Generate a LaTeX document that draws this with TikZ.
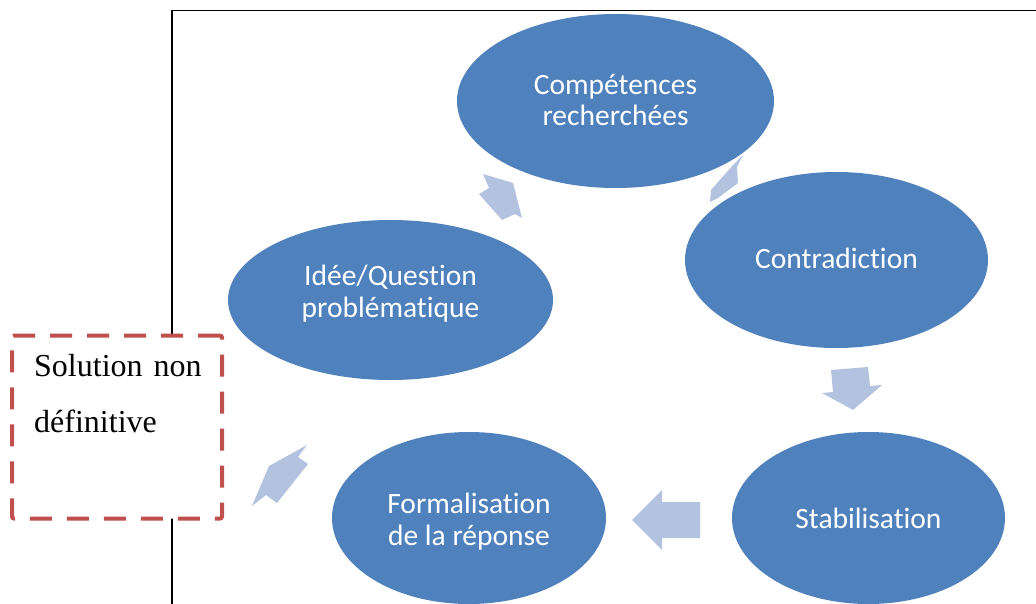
\documentclass[tikz,border=0pt]{standalone}
\usepackage{fontspec}
\setmainfont{Liberation Serif}
\newfontfamily\calib[Ligatures={NoCommon,NoRequired,NoContextual,NoDiscretionary}]{Carlito}
\usetikzlibrary{shapes.geometric}
\definecolor{nodeblue}{RGB}{79,129,189}
\definecolor{arrowblue}{RGB}{179,195,223}
\definecolor{dashred}{RGB}{192,80,77}
\begin{document}
\begin{tikzpicture}[x=1pt,y=-1pt,
  cyc/.style={ellipse, fill=nodeblue, draw=none, inner sep=0pt, text=white,
    font=\calib\fontsize{29.5}{31.5}\selectfont, align=center, text height=22pt},
  blockarrow/.style={fill=arrowblue, draw=none},
  framel/.style={draw=black, line width=1.6pt},
  solbox/.style={draw=dashred, line width=4pt, dash pattern=on 22pt off 15pt,
    fill=white, rounded corners=2pt, minimum width=210pt, minimum height=183pt, inner sep=0pt},
  soltext/.style={anchor=base west, inner sep=0pt, font=\fontsize{32}{32}\selectfont}]
\useasboundingbox (0,0) rectangle (1036,604);
% frame
\coordinate (fb) at (172,606);
\coordinate (fc) at (172,10.5);
\coordinate (fr) at (1040,10.5);
\draw[framel] (fb) -- (fc) -- (fr);
% block arrows
\fill[blockarrow] (483,174) -- (513,183) -- (522,218) -- (515,214) -- (502,220) -- (479,194) -- (489,188) -- cycle;
\fill[blockarrow] (743,155) -- (737,167) -- (738,183) -- (718,198) -- (710,202) -- (711,190) -- (733,165) -- cycle;
\fill[blockarrow] (831,370) -- (868,367) -- (870,386) -- (882,385) -- (853,410) -- (822,393) -- (833,392) -- cycle;
\fill[blockarrow] (632,520) -- (662,490) -- (662,502) -- (700,502) -- (700,538) -- (662,538) -- (662,550) -- cycle;
\fill[blockarrow] (307,445) -- (298,457) -- (308,464) -- (277,503) -- (266,495) -- (252,506) -- (269,466) -- cycle;
% ellipses
\node[cyc, text height=55pt, text depth=5pt, minimum width=317pt, minimum height=174pt] (comp) at (615.5,101) {Compétences\\recherchées};
\node[cyc, text depth=4pt, minimum width=303pt, minimum height=176pt] (contra) at (836.5,260) {Contradiction};
\node[cyc, text depth=2pt, minimum width=273pt, minimum height=172pt] (stab) at (868.5,518) {Stabilisation};
\node[cyc, text height=59pt, text depth=5pt, minimum width=274pt, minimum height=172pt] (form) at (469,518) {Formalisation\\de la réponse};
\node[cyc, text height=39pt, text depth=5pt, minimum width=325pt, minimum height=160pt] (idee) at (390.5,300) {Idée/Question\\problématique};
% solution box
\node[solbox] (sol) at (117,427) {};
\node[soltext] (sol1) at (34,376) {Solution\hspace{11pt}non};
\node[soltext] (sol2) at (34,432) {définitive};
\end{tikzpicture}
\end{document}
